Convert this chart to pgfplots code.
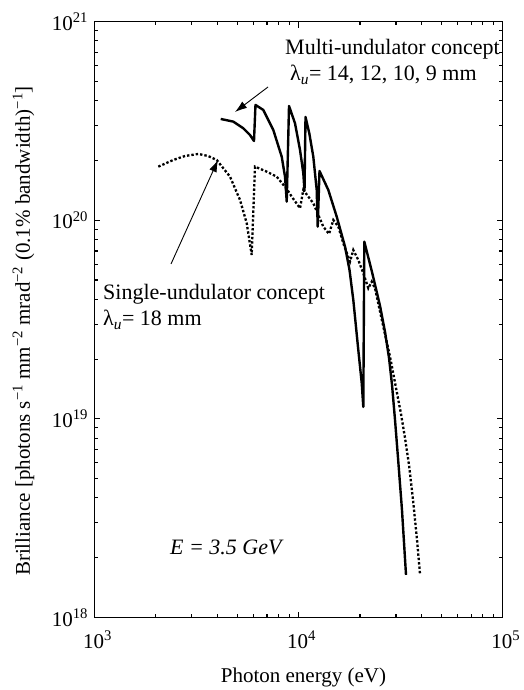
\documentclass[border=0pt]{standalone}
\usepackage{fontspec}
\setmainfont{Liberation Serif}
\usepackage{pgfplots}
\pgfplotsset{compat=1.18}
\usetikzlibrary{arrows.meta}
\newcommand\bigf{\fontsize{21}{25}\selectfont}
\newcommand\annf{\fontsize{22}{26}\selectfont}
\begin{document}
\begin{tikzpicture}
\begin{axis}[
  at={(0pt,0pt)}, anchor=south west,
  scale only axis, width=408.2pt, height=595.8pt,
  xmode=log, ymode=log,
  xmin=1000, xmax=100000, ymin=1e18, ymax=1e21,
  axis line style={line width=1.4pt},
  every tick/.style={line width=1.1pt, black},
  tick align=inside,
  major tick length=6pt, minor tick length=3.8pt,
  xtick={1000,10000,100000},
  xticklabels={10\textsuperscript{3},10\textsuperscript{4},10\textsuperscript{5}},
  minor xtick={2000,3000,4000,5000,6000,7000,8000,9000,20000,30000,40000,50000,60000,70000,80000,90000},
  ytick={1e18,1e19,1e20,1e21},
  yticklabels={10\textsuperscript{18},10\textsuperscript{19},10\textsuperscript{20},10\textsuperscript{21}},
  minor ytick={2e18,3e18,4e18,5e18,6e18,7e18,8e18,9e18,2e19,3e19,4e19,5e19,6e19,7e19,8e19,9e19,2e20,3e20,4e20,5e20,6e20,7e20,8e20,9e20},
  tick label style={font=\bigf},
  xticklabel style={yshift=-10pt, xshift=3pt},
  yticklabel style={xshift=-3pt},
  clip=false,
]
\addplot[line width=2.4pt, black, line join=round] coordinates {
(4153,3.237e20)
(4786,3.138e20)
(5358,2.905e20)
(5779,2.688e20)
(6045,2.507e20)
(6148,3.808e20)
(6714,3.593e20)
(7516,2.849e20)
(8264,2.090e20)
(8579,1.658e20)
(8745,1.241e20)
(8974,3.763e20)
(9601,3.079e20)
(10160,2.259e20)
(10544,1.725e20)
(10688,1.405e20)
(10810,3.313e20)
(11281,2.742e20)
(11803,2.090e20)
(12265,1.421e20)
(12404,9.286e19)
(12658,1.771e20)
(13980,1.421e20)
(15374,1.042e20)
(16882,7.364e19)
(17760,5.62e19)
(18535,3.969e19)
(19613,2.223e19)
(20380,1.516e19)
(20749,1.148e19)
(20984,7.80e19)
(22887,5.49e19)
(25060,3.703e19)
(26510,2.739e19)
(27730,2.026e19)
(28690,1.482e19)
(29674,9.87e18)
(30800,6.07e18)
(32100,3.478e18)
(33593,1.637e18)
};
\addplot[line width=2.3pt, black, dash pattern=on 2.4pt off 2.0pt] coordinates {
(2054,1.862e20)
(2433,2.012e20)
(2776,2.107e20)
(3226,2.157e20)
(3598,2.107e20)
(3969,2.012e20)
(4612,1.658e20)
(5164,1.265e20)
(5569,9.66e19)
(5890,6.69e19)
(6114,1.862e20)
(6977,1.757e20)
(7809,1.658e20)
(8745,1.438e20)
(9252,1.315e20)
(10160,1.149e20)
(10544,1.421e20)
(11155,1.315e20)
(11803,1.218e20)
(12490,1.063e20)
(13213,9.286e19)
(14093,8.53e19)
(14792,1.003e20)
(15652,9.286e19)
(16558,7.66e19)
(17858,6.187e19)
(18535,7.088e19)
(19613,6.31e19)
(20749,5.408e19)
(21953,4.547e19)
(22812,4.907e19)
(23676,4.547e19)
(26001,2.912e19)
(28043,2.057e19)
(30010,1.431e19)
(31750,1.058e19)
(33210,8.01e18)
(34750,5.86e18)
(36360,3.905e18)
(38040,2.455e18)
(39340,1.656e18)
};
\end{axis}
% annotations (origin = lower left corner of the axis box, 1pt = 1px)
\node[font=\annf, anchor=base west, inner sep=0pt] at (190.5pt,562.5pt) {Multi-undulator concept};
\node[font=\annf, anchor=base west, inner sep=0pt] at (195.5pt,536.5pt) {λ\textsubscript{\itshape u}= 14, 12, 10, 9 mm};
\draw[line width=0.9pt, -{Latex[length=12pt,width=8pt]}] (173.5pt,530.5pt) -- (140.5pt,505.5pt);
\node[font=\annf, anchor=base west, inner sep=0pt] at (8.5pt,317.5pt) {Single-undulator concept};
\node[font=\annf, anchor=base west, inner sep=0pt] at (8.5pt,291.5pt) {λ\textsubscript{\itshape u}= 18 mm};
\draw[line width=0.9pt, -{Latex[length=12pt,width=8pt]}] (76.5pt,353.5pt) -- (123.5pt,457.5pt);
\node[font=\annf\itshape, anchor=base west, inner sep=0pt] at (75.5pt,62.5pt) {E = 3.5 GeV};
% axis labels
\node[font=\bigf, anchor=base, inner sep=0pt] at (209pt,-65pt) {Photon energy (eV)};
\node[font=\bigf, anchor=base, rotate=90, inner sep=0pt] at (-64.5pt,286.5pt) {Brilliance [photons s\textsuperscript{−1} mm\textsuperscript{−2} mrad\textsuperscript{−2} (0.1\% bandwidth)\textsuperscript{−1}]};
\pgfresetboundingbox
\useasboundingbox (-94.5pt,-72.5pt) rectangle (428.5pt,617.5pt);
\end{tikzpicture}
\end{document}
